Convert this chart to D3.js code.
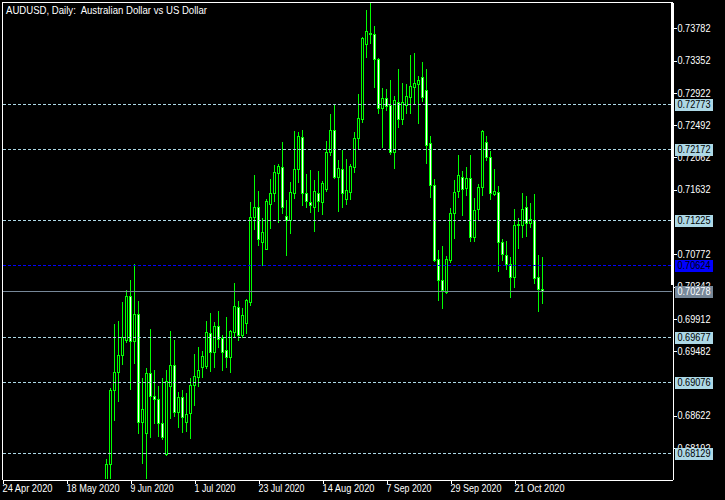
<!DOCTYPE html>
<html><head><meta charset="utf-8">
<script src="https://cdn.jsdelivr.net/npm/d3@7"></script>
<style>
html,body{margin:0;padding:0;background:#000;overflow:hidden}
svg{display:block}
text{font-family:"Liberation Sans",Arial,sans-serif}
</style></head><body>
<svg id="c" width="725" height="500"></svg>
<script>
// ---------------- DATA ----------------
const title = "AUDUSD, Daily:  Australian Dollar vs US Dollar";
// daily bars from 24 Apr 2020 to 30 Oct 2020 (weekdays)
const openP = [0.6370,0.6385,0.6440,0.6485,0.6545,0.6515,0.6410,0.6425,0.6445,0.6410,
0.6505,0.6530,0.6490,0.6465,0.6460,0.6450,0.6420,0.6535,0.6545,0.6590,
0.6565,0.6535,0.6555,0.6635,0.6620,0.6655,0.6665,0.67976,0.68964,0.69200,
0.69426,0.69635,0.70212,0.69612,0.69972,0.68542,0.68387,0.69187,0.68889,0.68840,
0.68520,0.68107,0.69017,0.69293,0.68676,0.68866,0.68542,0.68653,0.69035,0.69142,
0.69266,0.69288,0.69719,0.69466,0.69812,0.69652,0.69492,0.69399,0.69741,0.70065,
0.69692,0.69852,0.70141,0.71273,0.71397,0.70940,0.70847,0.71446,0.71584,0.71850,
0.71930,0.71282,0.71229,0.71584,0.71903,0.72334,0.71584,0.71468,0.71397,0.71584,
0.71473,0.71637,0.72134,0.72423,0.71806,0.71903,0.71508,0.71606,0.71939,0.72316,
0.72574,0.73577,0.73719,0.73706,0.73369,0.72716,0.72849,0.72756,0.72130,0.72804,
0.72569,0.72755,0.72862,0.73004,0.73040,0.73129,0.72960,0.72249,0.71690,0.70704,
0.70425,0.70274,0.70695,0.71317,0.71615,0.71805,0.71650,0.71783,0.71006,0.71371,
0.71672,0.72263,0.72063,0.71579,0.71597,0.70931,0.70762,0.70638,0.70473,0.71162,
0.71162,0.71401,0.71184,0.71224,0.70465,0.70309];
const highP = [0.6400,0.6445,0.6495,0.6555,0.6570,0.6530,0.6440,0.6455,0.6465,0.6515,
0.6545,0.6570,0.6505,0.6500,0.6470,0.6455,0.6540,0.6570,0.6615,0.6615,
0.6570,0.6560,0.6645,0.6655,0.6675,0.6685,0.68045,0.68991,0.69843,0.69879,
0.70132,0.70292,0.70429,0.70643,0.70150,0.69120,0.69253,0.69772,0.69231,0.69022,
0.69120,0.69231,0.69750,0.69630,0.68933,0.68964,0.68920,0.69120,0.69444,0.69537,
0.69483,0.69879,0.69990,0.69870,0.70016,0.69697,0.69932,0.69763,0.70390,0.70150,
0.70056,0.70176,0.71473,0.71828,0.71615,0.71251,0.71504,0.71770,0.71961,0.71975,
0.72263,0.71495,0.71730,0.72414,0.72401,0.72427,0.71841,0.71895,0.71761,0.71881,
0.71744,0.72281,0.72641,0.72760,0.72028,0.72161,0.72037,0.71970,0.72396,0.72907,
0.73662,0.74026,0.74123,0.73813,0.73382,0.72983,0.72974,0.73093,0.72876,0.73240,
0.73049,0.73040,0.73426,0.73449,0.73147,0.73333,0.73236,0.72347,0.71774,0.70829,
0.70882,0.70749,0.71384,0.71761,0.72094,0.71881,0.71930,0.72094,0.71521,0.71708,
0.72427,0.72347,0.72147,0.71908,0.71681,0.70971,0.70953,0.70731,0.71375,0.71251,
0.71588,0.71548,0.71455,0.71575,0.70767,0.70740];
const lowP = [0.6350,0.6380,0.6425,0.6475,0.6500,0.6400,0.6370,0.6400,0.6400,0.6400,
0.6490,0.6480,0.6450,0.6440,0.6405,0.6400,0.6415,0.6530,0.6540,0.6545,
0.6520,0.6525,0.6550,0.6590,0.6610,0.6610,0.6655,0.6772,0.68565,0.68822,
0.69315,0.69599,0.68982,0.69328,0.68396,0.67996,0.6774,0.68343,0.68529,0.68351,
0.68307,0.68098,0.68587,0.68618,0.68476,0.68409,0.68418,0.68329,0.68765,0.69022,
0.69142,0.69257,0.69222,0.69275,0.69541,0.69235,0.69266,0.69209,0.69675,0.69630,
0.69666,0.69728,0.70096,0.71104,0.70896,0.70629,0.70838,0.71126,0.71482,0.71206,
0.71326,0.70763,0.71060,0.71526,0.71739,0.71433,0.71397,0.71335,0.71087,0.71353,
0.71313,0.71615,0.72090,0.71792,0.71353,0.71397,0.71446,0.71504,0.71868,0.72170,
0.72538,0.73395,0.73582,0.73005,0.72649,0.72205,0.72694,0.72108,0.71917,0.72471,
0.72507,0.72658,0.72658,0.72782,0.72525,0.72818,0.71983,0.71539,0.70686,0.70162,
0.70056,0.70251,0.70673,0.70993,0.71539,0.71295,0.71561,0.70953,0.70953,0.71228,
0.71561,0.72027,0.71503,0.71561,0.70553,0.70695,0.70580,0.70207,0.70331,0.70851,
0.71006,0.71020,0.71140,0.70385,0.70021,0.70127];
const closeP = [0.6385,0.6440,0.6485,0.6545,0.6515,0.6410,0.6425,0.6445,0.6410,0.6505,
0.6530,0.6490,0.6465,0.6460,0.6450,0.6420,0.6535,0.6545,0.6590,0.6565,
0.6535,0.6555,0.6635,0.6620,0.6655,0.6665,0.67976,0.68964,0.69200,0.69426,
0.69666,0.70212,0.69612,0.69972,0.68542,0.68707,0.69187,0.68889,0.68840,0.68520,
0.68343,0.69084,0.69293,0.68676,0.68866,0.68609,0.68640,0.69026,0.69146,0.69231,
0.69413,0.69737,0.69466,0.69812,0.69639,0.69475,0.69399,0.69746,0.70083,0.69692,
0.69959,0.70163,0.71273,0.71397,0.70971,0.71064,0.71482,0.71584,0.71864,0.71948,
0.71406,0.71229,0.71597,0.71908,0.72348,0.71593,0.71477,0.71424,0.71615,0.71477,
0.71721,0.72134,0.72427,0.71806,0.71917,0.71593,0.71624,0.71948,0.72316,0.72587,
0.73648,0.73742,0.73706,0.73369,0.72716,0.72849,0.72747,0.72130,0.72827,0.72569,
0.72804,0.72880,0.73013,0.73049,0.73093,0.72871,0.72223,0.71690,0.70695,0.70425,
0.70296,0.70704,0.71317,0.71597,0.71823,0.71637,0.71783,0.71006,0.71362,0.71668,
0.72414,0.72063,0.71584,0.71610,0.70931,0.70771,0.70638,0.70473,0.71162,0.71175,
0.71375,0.71184,0.71242,0.70460,0.70305,0.70278];
const xTickIndex = [0,16,32,48,64,80,96,112,128];
const xTickLabels = ["24 Apr 2020","18 May 2020","9 Jun 2020","1 Jul 2020","23 Jul 2020","14 Aug 2020","7 Sep 2020","29 Sep 2020","21 Oct 2020"];
// scale ticks that stay visible next to the price labels
const yTickValues = [0.73782,0.73352,0.72922,0.72492,0.72062,0.71632,0.70772,0.70342,0.69912,0.69482,0.68622,0.68192];
const levelLines = [0.72773,0.72172,0.71225,0.69677,0.69076,0.68129];
const alertLevel = 0.70624;
const bidPrice = 0.70278;

// ---------------- LAYOUT / STYLE ----------------
const W = 725, H = 500;
const plot = {left: 2.5, top: 2.5, right: 672.5, bottom: 479.5};
const barStep = 4;
const priceRange = [0.67779, 0.74119];
const xLabelWidths = [50, 53, 43, 41, 46, 52, 45, 51, 50];
const yLabelWidth = 33;
const C = {bg: "#000", fg: "#fff", bar: "#00ff00", bull: "#000", bear: "#fff",
           level: "#add8e6", alert: "#0000ff", bid: "#778899"};

const svg = d3.select("#c");
svg.append("rect").attr("width", W).attr("height", H).attr("fill", C.bg);

const x = d3.scaleLinear()
  .domain([0, (plot.right - plot.left) / barStep])
  .range([plot.left, plot.right]);
const y = d3.scaleLinear().domain(priceRange).range([plot.bottom - 0.5, plot.top + 0.5]);

svg.append("clipPath").attr("id", "clip").append("rect")
  .attr("x", 3).attr("y", 3).attr("width", 669).attr("height", 476);

const bars = openP.map((o, i) => ({i, o, h: highP[i], l: lowP[i], c: closeP[i]}));

const g = svg.append("g").attr("clip-path", "url(#clip)").attr("shape-rendering", "crispEdges");

const cg = g.selectAll("g.candle").data(bars).join("g").attr("class", "candle");
// wick
cg.append("rect")
  .attr("x", d => Math.floor(x(d.i)))
  .attr("width", 1)
  .attr("y", d => Math.round(y(d.h)))
  .attr("height", d => Math.round(y(d.l)) - Math.round(y(d.h)) + 1)
  .attr("fill", C.bar);
// body outline
cg.append("rect")
  .attr("x", d => Math.floor(x(d.i)) - 1)
  .attr("width", 3)
  .attr("y", d => Math.round(y(Math.max(d.o, d.c))))
  .attr("height", d => Math.round(y(Math.min(d.o, d.c))) - Math.round(y(Math.max(d.o, d.c))) + 1)
  .attr("fill", C.bar);
// body interior
cg.append("rect")
  .attr("x", d => Math.floor(x(d.i)))
  .attr("width", 1)
  .attr("y", d => Math.round(y(Math.max(d.o, d.c))) + 1)
  .attr("height", d => Math.max(0, Math.round(y(Math.min(d.o, d.c))) - Math.round(y(Math.max(d.o, d.c))) - 1))
  .attr("fill", d => d.c >= d.o ? C.bull : C.bear);

// horizontal level lines
const lineG = svg.append("g").attr("shape-rendering", "crispEdges");
lineG.selectAll("line.lvl").data(levelLines).join("line")
  .attr("x1", 3).attr("x2", 672)
  .attr("y1", d => Math.round(y(d)) + 0.5).attr("y2", d => Math.round(y(d)) + 0.5)
  .attr("stroke", C.level).attr("stroke-dasharray", "3,2");
lineG.append("line")
  .attr("x1", 3).attr("x2", 672)
  .attr("y1", Math.round(y(alertLevel)) + 0.5).attr("y2", Math.round(y(alertLevel)) + 0.5)
  .attr("stroke", C.alert).attr("stroke-dasharray", "3,2");
lineG.append("line")
  .attr("x1", 3).attr("x2", 672)
  .attr("y1", Math.round(y(bidPrice)) + 0.5).attr("y2", Math.round(y(bidPrice)) + 0.5)
  .attr("stroke", C.bid);

// frame top & left
svg.append("path")
  .attr("d", `M${plot.left},${plot.bottom}V${plot.top}H${plot.right}`)
  .attr("fill", "none").attr("stroke", C.fg).attr("shape-rendering", "crispEdges");

// right price axis
const yAxis = d3.axisRight(y).tickValues(yTickValues).tickSize(4).tickSizeOuter(0).tickPadding(1)
  .tickFormat(d3.format(".5f"));
const ya = svg.append("g").attr("transform", `translate(${plot.right},0)`).call(yAxis);
ya.select(".domain").attr("stroke", C.fg).attr("shape-rendering", "crispEdges");
ya.selectAll(".tick line").attr("stroke", C.fg).attr("shape-rendering", "crispEdges");
ya.selectAll(".tick text").attr("fill", C.fg).attr("font-size", 10)
  .attr("font-family", '"Liberation Sans",Arial,sans-serif')
  .attr("textLength", yLabelWidth).attr("lengthAdjust", "spacingAndGlyphs");
// thick upper scale bar
svg.append("rect").attr("x", 671).attr("y", 3).attr("width", 3)
  .attr("height", Math.round(y(bidPrice)) - 9).attr("fill", C.fg);

// bottom time axis
const xAxis = d3.axisBottom(x).tickValues(xTickIndex).tickSize(4).tickSizeOuter(0).tickPadding(1)
  .tickFormat((d, k) => xTickLabels[k]);
const xa = svg.append("g").attr("transform", `translate(0,${plot.bottom})`).call(xAxis);
xa.select(".domain").attr("stroke", C.fg).attr("shape-rendering", "crispEdges");
xa.selectAll(".tick line").attr("stroke", C.fg).attr("shape-rendering", "crispEdges");
xa.selectAll(".tick text").attr("fill", C.fg).attr("font-size", 11)
  .attr("font-family", '"Liberation Sans",Arial,sans-serif')
  .attr("text-anchor", "start").attr("x", -0.5)
  .attr("textLength", (d, k) => xLabelWidths[k]).attr("lengthAdjust", "spacingAndGlyphs");

// price labels on the scale
function priceLabel(p, fill, textFill) {
  const yy = Math.round(y(p));
  const lg = svg.append("g");
  lg.append("rect").attr("x", 675).attr("y", yy - 5).attr("width", 38).attr("height", 12)
    .attr("fill", fill).attr("shape-rendering", "crispEdges");
  lg.append("text").attr("x", 677.5).attr("y", yy + 0.5).attr("dy", "0.35em")
    .attr("fill", textFill).attr("font-size", 10)
    .attr("textLength", yLabelWidth).attr("lengthAdjust", "spacingAndGlyphs")
    .text(d3.format(".5f")(p));
}
levelLines.forEach(p => priceLabel(p, C.level, "#000"));
priceLabel(alertLevel, C.alert, "#000");
priceLabel(bidPrice, C.bid, "#fff");

// title
svg.append("text").attr("x", 6).attr("y", 14).attr("fill", C.fg).attr("font-size", 11)
  .attr("textLength", 201).attr("lengthAdjust", "spacingAndGlyphs")
  .attr("xml:space", "preserve").style("white-space", "pre")
  .text(title);
</script>
</body></html>
